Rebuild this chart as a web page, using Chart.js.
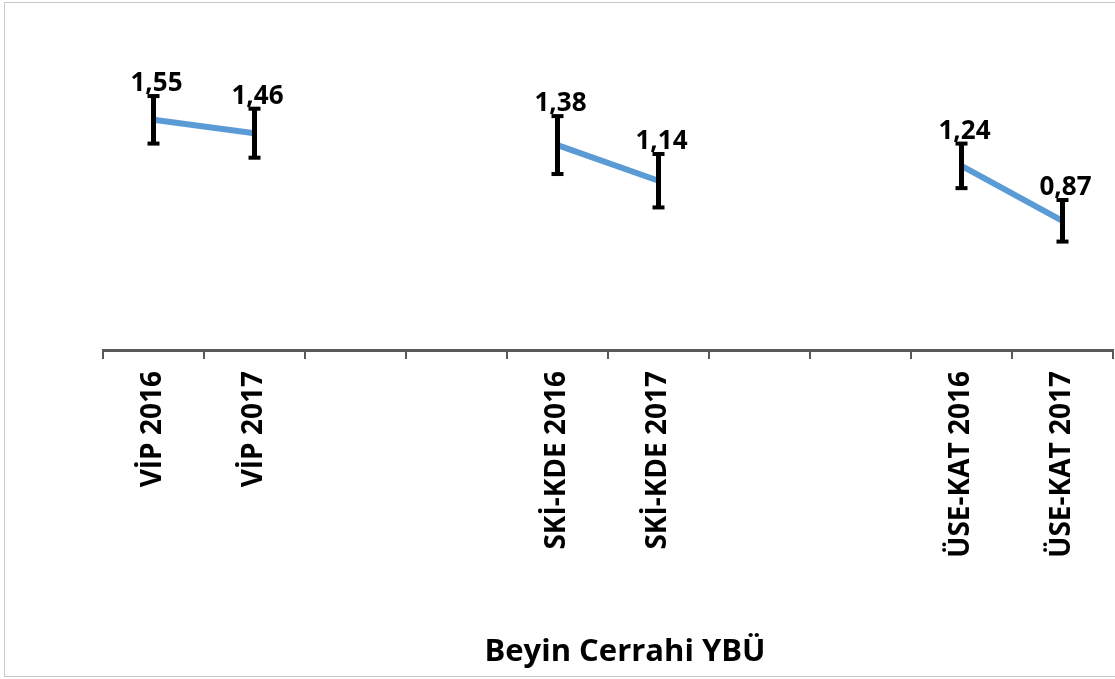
<!DOCTYPE html>
<html>
<head>
<meta charset="utf-8">
<script src="https://cdn.jsdelivr.net/npm/chart.js@4/dist/chart.umd.min.js"></script>
<style>
  html, body { margin: 0; padding: 0; background: #fff; }
  #wrap { position: relative; width: 1115px; height: 679px; }
</style>
</head>
<body>
<div id="wrap"><canvas id="chart"></canvas></div>
<script>
  'use strict';

  const categories = ['VİP 2016', 'VİP 2017', '', '', 'SKİ-KDE 2016', 'SKİ-KDE 2017', '', '', 'ÜSE-KAT 2016', 'ÜSE-KAT 2017'];
  const means = [1.55, 1.46, null, null, 1.38, 1.14, null, null, 1.24, 0.87];
  const errors = [0.16, 0.165, null, null, 0.195, 0.18, null, null, 0.15, 0.14];
  const chartTitle = 'Beyin Cerrahi YBÜ';

  const FONT = "'Open Sans', 'DejaVu Sans', sans-serif";

  // outer frame of the chart
  const framePlugin = {
    id: 'frame',
    beforeDraw: function (chart) {
      const ctx = chart.ctx;
      ctx.save();
      ctx.strokeStyle = '#c8c8c8';
      ctx.lineWidth = 1;
      ctx.strokeRect(4.5, 2.5, chart.width + 10, chart.height - 5);
      ctx.restore();
    }
  };

  // error bars and value labels
  const errorBarPlugin = {
    id: 'errorBars',
    afterDatasetsDraw: function (chart) {
      const ctx = chart.ctx;
      const x = chart.scales.x;
      const y = chart.scales.y;
      ctx.save();
      for (let i = 0; i < means.length; i++) {
        if (means[i] === null) continue;
        const px = x.getPixelForValue(i);
        const top = y.getPixelForValue(means[i] + errors[i]);
        const bottom = y.getPixelForValue(means[i] - errors[i]);
        ctx.fillStyle = '#000';
        ctx.fillRect(px - 2.5, top, 5, bottom - top);
        ctx.fillRect(px - 6, top - 2, 12, 4);
        ctx.fillRect(px - 6, bottom - 2, 12, 4);

        ctx.font = 'bold 26px ' + FONT;
        ctx.textAlign = 'center';
        ctx.textBaseline = 'alphabetic';
        ctx.fillText(means[i].toFixed(2).replace('.', ','), px + 3, top - 5);
      }
      ctx.restore();
    }
  };

  const titlePlugin = {
    id: 'bottomTitle',
    afterDraw: function (chart) {
      const ctx = chart.ctx;
      ctx.save();
      ctx.font = 'bold 31px ' + FONT;
      ctx.fillStyle = '#000';
      ctx.textAlign = 'center';
      ctx.textBaseline = 'alphabetic';
      ctx.fillText(chartTitle, 625, 661);
      ctx.restore();
    }
  };

  new Chart(document.getElementById('chart'), {
    type: 'line',
    data: {
      labels: categories,
      datasets: [
        {
          data: means,
          borderColor: '#5b9bd5',
          borderWidth: 6,
          pointRadius: 0,
          spanGaps: false,
          tension: 0
        }
      ]
    },
    options: {
      responsive: true,
      maintainAspectRatio: false,
      animation: false,
      layout: {
        padding: { left: 103, right: 2, top: 53, bottom: 0 }
      },
      plugins: {
        legend: { display: false },
        tooltip: { enabled: false }
      },
      scales: {
        x: {
          offset: true,
          grid: {
            display: true,
            offset: true,
            drawOnChartArea: false,
            drawTicks: true,
            tickLength: 9,
            tickColor: '#595959',
            lineWidth: 2
          },
          border: { display: true, color: '#595959', width: 3 },
          ticks: {
            autoSkip: false,
            minRotation: 90,
            maxRotation: 90,
            padding: 12,
            color: '#000',
            font: { family: FONT, size: 28, weight: 'bold' }
          },
          afterFit: function (scale) {
            scale.height = 329;
          }
        },
        y: {
          display: false,
          min: 0,
          max: 2
        }
      }
    },
    plugins: [framePlugin, errorBarPlugin, titlePlugin]
  });
</script>
</body>
</html>
